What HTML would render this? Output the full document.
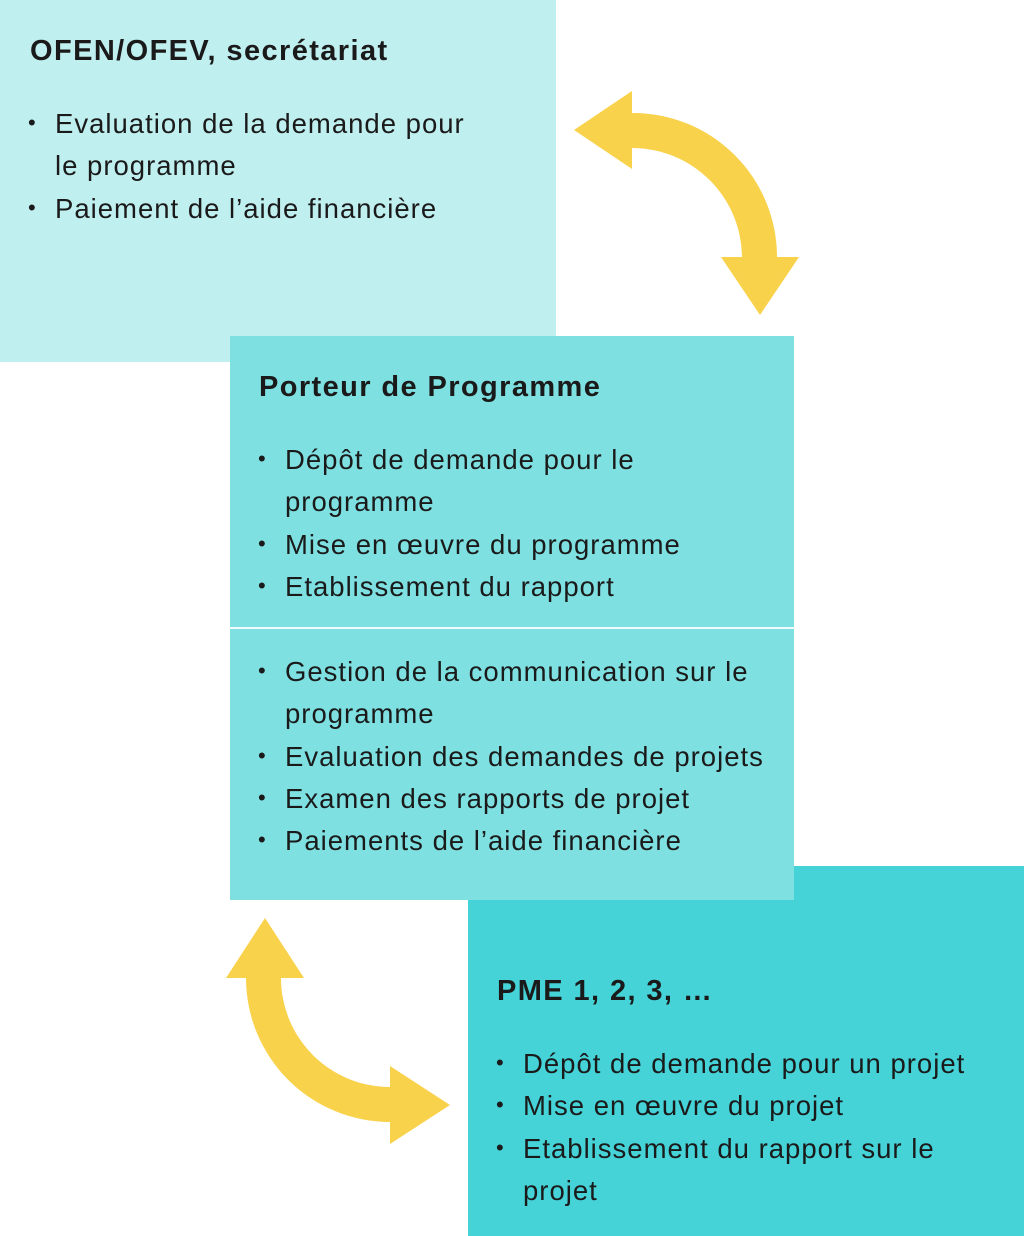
<!DOCTYPE html>
<html><head><meta charset="utf-8"><style>
body{margin:0;width:1024px;height:1236px;position:relative;background:#fff;overflow:hidden;font-family:"Liberation Sans","Noto Sans CJK SC",sans-serif;color:#1a1a1a}
.b{position:absolute}
.t{position:absolute;font-size:27.5px;letter-spacing:1px;white-space:nowrap;line-height:1}
.h{position:absolute;font-size:29px;font-weight:bold;letter-spacing:1.4px;white-space:nowrap;line-height:1}
.d{position:absolute;font-size:22px;line-height:1}
</style></head><body>
<div class="b" style="left:0;top:0;width:556px;height:362px;background:#c0eff0"></div>
<div class="b" style="left:468px;top:866px;width:556px;height:370px;background:#45d3d8"></div>
<div class="b" style="left:230px;top:336px;width:564px;height:564px;background:#7fe0e2"></div>
<div class="b" style="left:230px;top:627px;width:564px;height:2px;background:#f2fbfb"></div>
<svg class="b" style="left:0;top:0" width="1024" height="1236">
<path fill="#f9d24c" d="M574,130 L632,91 L632,113 A144,144 0 0 1 777,257 L799,257 L760,315 L721,257 L742,257 A110,110 0 0 0 632,148 L632,169 Z"/>
<path fill="#f9d24c" d="M265,918 L304,978 L281,978 A109,109 0 0 0 390,1087 L390,1066 L450,1105 L390,1144 L390,1122 A144,144 0 0 1 246,978 L226,978 Z"/>
</svg>
<div class="h" style="left:30px;top:37px">OFEN/OFEV, secrétariat</div>
<div class="d" style="left:28px;top:112px">•</div><div class="t" style="left:55px;top:110px">Evaluation de la demande pour</div>
<div class="t" style="left:55px;top:152px">le programme</div>
<div class="d" style="left:28px;top:197px">•</div><div class="t" style="left:55px;top:195px">Paiement de l’aide financière</div>

<div class="h" style="left:259px;top:373px">Porteur de Programme</div>
<div class="d" style="left:258px;top:448px">•</div><div class="t" style="left:285px;top:446px">Dépôt de demande pour le</div>
<div class="t" style="left:285px;top:488px">programme</div>
<div class="d" style="left:258px;top:533px">•</div><div class="t" style="left:285px;top:531px">Mise en œuvre du programme</div>
<div class="d" style="left:258px;top:575px">•</div><div class="t" style="left:285px;top:573px">Etablissement du rapport</div>
<div class="d" style="left:258px;top:660px">•</div><div class="t" style="left:285px;top:658px">Gestion de la communication sur le</div>
<div class="t" style="left:285px;top:700px">programme</div>
<div class="d" style="left:258px;top:745px">•</div><div class="t" style="left:285px;top:743px">Evaluation des demandes de projets</div>
<div class="d" style="left:258px;top:787px">•</div><div class="t" style="left:285px;top:785px">Examen des rapports de projet</div>
<div class="d" style="left:258px;top:829px">•</div><div class="t" style="left:285px;top:827px">Paiements de l’aide financière</div>

<div class="h" style="left:497px;top:977px">PME 1, 2, 3, …</div>
<div class="d" style="left:496px;top:1052px">•</div><div class="t" style="left:523px;top:1050px">Dépôt de demande pour un projet</div>
<div class="d" style="left:496px;top:1094px">•</div><div class="t" style="left:523px;top:1092px">Mise en œuvre du projet</div>
<div class="d" style="left:496px;top:1137px">•</div><div class="t" style="left:523px;top:1135px">Etablissement du rapport sur le</div>
<div class="t" style="left:523px;top:1177px">projet</div>
</body></html>
